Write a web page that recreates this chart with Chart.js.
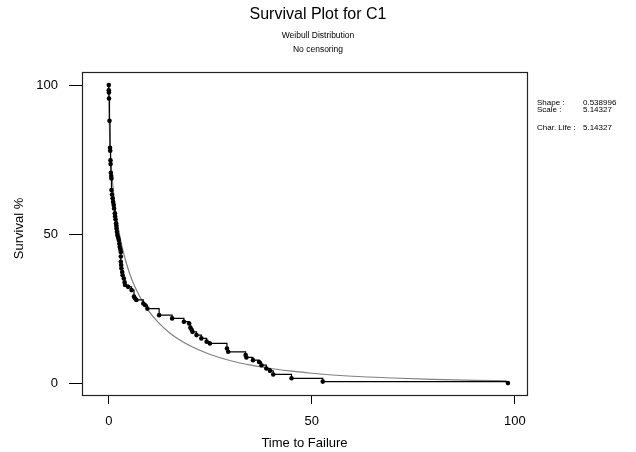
<!DOCTYPE html>
<html>
<head>
<meta charset="utf-8">
<script src="https://cdn.jsdelivr.net/npm/chart.js@4/dist/chart.umd.min.js"></script>
<style>
  html, body { margin: 0; padding: 0; background: #fff; }
  #c { display: block; }
</style>
</head>
<body>
<canvas id="c" width="636" height="452"></canvas>
<script>
// ---- Data ----
const chartTitle = 'Survival Plot for C1';
const subTitles = ['Weibull Distribution', 'No censoring'];
const xAxisTitle = 'Time to Failure';
const yAxisTitle = 'Survival %';
const xTicks = [0, 50, 100];
const yTicks = [0, 50, 100];

// fitted Weibull curve (grey)
const fitTime = [0, 0.02, 0.05, 0.1, 0.2, 0.3, 0.5, 0.75, 1, 1.5, 2, 2.5, 3, 4, 5, 6, 7, 8, 10, 12, 15, 20, 25, 30, 35, 40, 45, 50, 60, 70, 80, 90, 98];
const fitSurvival = [100, 95.1, 92.1, 88.7, 84.0, 80.6, 75.2, 70.2, 66.1, 59.8, 54.8, 50.8, 47.3, 41.8, 37.3, 33.7, 30.7, 28.1, 23.9, 20.6, 16.8, 12.5, 9.6, 7.5, 6.0, 4.9, 4.0, 3.3, 2.3, 1.7, 1.24, 0.93, 0.75];

// empirical (nonparametric) survival points
const failTime = [0, 0, 0.03, 0.05, 0.17, 0.3, 0.35, 0.42, 0.45, 0.5, 0.6, 0.66, 0.66, 0.8, 0.95, 1.06, 1.2, 1.3, 1.48, 1.55, 1.65, 1.8, 1.85, 1.9, 2.0, 2.1, 2.3, 2.46, 2.6, 2.7, 2.85, 2.96, 2.96, 2.96, 3.05, 3.1, 3.3, 3.4, 3.7, 3.9, 4.0, 4.75, 5.6, 6.2, 6.5, 6.8, 8.5, 8.9, 9.5, 12.4, 15.6, 18.5, 19.8, 20.1, 20.4, 20.6, 21.6, 22.8, 24.1, 24.9, 29.1, 29.4, 33.7, 33.9, 35.5, 37.0, 37.6, 38.8, 39.7, 40.5, 45.0, 52.7, 98.3];
const empSurvival = [100, 98.3, 97.5, 95.5, 88, 79, 78, 74.8, 73.5, 70.6, 69.5, 68.7, 64.8, 63.3, 62, 60.8, 59.8, 58.6, 57, 56, 55, 53.6, 52.8, 51.9, 50.8, 49.7, 48.8, 48, 46.8, 45.7, 44.8, 44, 42.5, 40.7, 39.6, 38.5, 37.3, 36.2, 35.1, 33.8, 32.9, 32.3, 31.2, 29, 28.4, 27.9, 26.7, 26.2, 25, 22.8, 21.7, 20.6, 20, 18.6, 17.9, 17.2, 16.1, 15, 13.9, 13.3, 11.6, 10.5, 9.4, 8.6, 7.7, 7.1, 6, 4.9, 4.1, 2.9, 1.6, 0.5, 0];

const statLabels = ['Shape :', 'Scale :', '', 'Char. Life :'];
const statValues = ['0.538996', '5.14327', '', '5.14327'];

// ---- Chart ----
const fitPoints = fitTime.map((t, i) => ({ x: t, y: fitSurvival[i] }));
const empPoints = failTime.map((t, i) => ({ x: t, y: empSurvival[i] }));

const AREA = { left: 82, top: 72, right: 527, bottom: 395 };

const decor = {
  id: 'decor',
  afterDatasetsDraw(chart) {
    const ctx = chart.ctx;
    const a = chart.chartArea;
    ctx.save();
    ctx.strokeStyle = '#222';
    ctx.lineWidth = 1.2;
    ctx.strokeRect(a.left + 0.5, a.top + 0.5, a.right - a.left, a.bottom - a.top);
    ctx.restore();
  },
  afterDraw(chart) {
    const ctx = chart.ctx;
    const a = chart.chartArea;
    const W = chart.width;
    ctx.save();
    ctx.fillStyle = '#000';
    ctx.textAlign = 'center';
    ctx.textBaseline = 'middle';
    ctx.font = '16px "Liberation Sans Narrow", "Liberation Sans", Arial, sans-serif';
    ctx.fillText(chartTitle, W / 2, 15);
    ctx.font = '8.5px "Liberation Sans", Arial, sans-serif';
    ctx.fillText(subTitles[0], W / 2, 36);
    ctx.fillText(subTitles[1], W / 2, 50);

    ctx.font = '13px "Liberation Sans", Arial, sans-serif';
    ctx.fillText(xAxisTitle, (a.left + a.right) / 2, 443);
    ctx.save();
    ctx.translate(19, (a.top + a.bottom) / 2 - 5);
    ctx.rotate(-Math.PI / 2);
    ctx.fillText(yAxisTitle, 0, 0);
    ctx.restore();

    ctx.textAlign = 'left';
    ctx.font = '8px "Liberation Sans", Arial, sans-serif';
    const rowY = [103, 109.5, 118, 128];
    statLabels.forEach((lab, i) => {
      if (!lab) return;
      ctx.fillText(lab, 537, rowY[i]);
      ctx.fillText(statValues[i], 583, rowY[i]);
    });
    ctx.restore();
  }
};

new Chart(document.getElementById('c'), {
  type: 'scatter',
  data: {
    datasets: [
      {
        label: 'Weibull fit',
        data: fitPoints,
        showLine: true,
        borderColor: '#808080',
        borderWidth: 1.2,
        pointRadius: 0,
        cubicInterpolationMode: 'monotone',
        order: 2
      },
      {
        label: 'Empirical',
        data: empPoints,
        showLine: true,
        stepped: 'before',
        borderColor: '#000',
        borderWidth: 1.2,
        pointRadius: 2.3,
        pointBackgroundColor: '#000',
        pointBorderWidth: 0,
        order: 1
      }
    ]
  },
  options: {
    responsive: false,
    animation: false,
    devicePixelRatio: 1,
    layout: { padding: { left: 0, top: AREA.top, right: 636 - AREA.right, bottom: 0 } },
    plugins: {
      legend: { display: false },
      tooltip: { enabled: false },
      title: { display: false }
    },
    scales: {
      x: {
        type: 'linear',
        min: -6.6,
        max: 103,
        afterFit(s) { s.height = 452 - AREA.bottom; },
        afterBuildTicks(s) { s.ticks = xTicks.map(v => ({ value: v })); },
        grid: { display: true, drawOnChartArea: false, drawTicks: true, tickLength: 9, color: '#000', lineWidth: 1 },
        border: { display: false },
        ticks: { color: '#000', padding: 10, maxRotation: 0, font: { family: '"Liberation Sans", Arial, sans-serif', size: 13 } }
      },
      y: {
        type: 'linear',
        min: -4,
        max: 104.4,
        afterFit(s) { s.width = AREA.left; },
        afterBuildTicks(s) { s.ticks = yTicks.map(v => ({ value: v })); },
        grid: { display: true, drawOnChartArea: false, drawTicks: true, tickLength: 13, color: '#000', lineWidth: 1 },
        border: { display: false },
        ticks: { color: '#000', padding: 11, font: { family: '"Liberation Sans", Arial, sans-serif', size: 13 } }
      }
    }
  },
  plugins: [decor]
});
</script>
</body>
</html>
